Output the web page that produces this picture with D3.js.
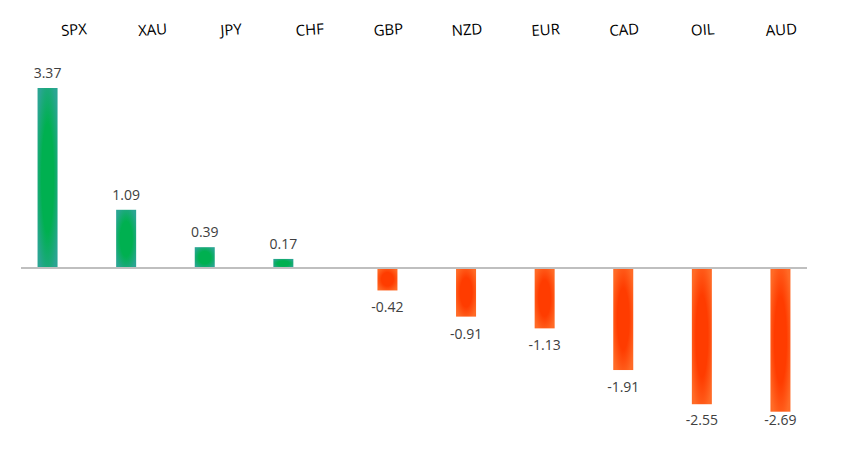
<!DOCTYPE html>
<html>
<head>
<meta charset="utf-8">
<script src="https://cdn.jsdelivr.net/npm/d3@7"></script>
<style>
	body { margin: 0; background: #fff; }
	svg { display: block; font-family: 'Open Sans', 'Noto Sans', sans-serif; }
</style>
</head>
<body>
<div id="canvas"></div>
<script>
// Data
var categories = ['SPX', 'XAU', 'JPY', 'CHF', 'GBP', 'NZD', 'EUR', 'CAD', 'OIL', 'AUD'],
	values = [3.37, 1.09, 0.39, 0.17, -0.42, -0.91, -1.13, -1.91, -2.55, -2.69];

var width = 843,
	height = 449,
	barWidth = 20,
	seriesOffset = 12.75,
	labelFloor = 425;

var svg = d3.select('#canvas').append('svg')
	.attr('width', width)
	.attr('height', height);

// Gradients
var defs = svg.append('defs');
function gradient(id, inner, outer) {
	var g = defs.append('radialGradient')
		.attr('id', id)
		.attr('cx', '50%').attr('cy', '50%').attr('r', '60%');
	g.append('stop').attr('offset', '0%').attr('stop-color', inner);
	g.append('stop').attr('offset', '50%').attr('stop-color', inner);
	g.append('stop').attr('offset', '100%').attr('stop-color', outer);
}
gradient('gPos', '#00b050', '#2aa592');
gradient('gNeg', '#ff3c00', '#ff6a26');

// Scales
var xScale = d3.scaleBand()
		.domain(categories)
		.range([21, 807]),
	yScale = d3.scaleLinear()
		.domain([-2.69, 3.37])
		.range([411.7, 88]);

function barCenter(d, i) {
	var c = xScale(categories[i]) + xScale.bandwidth() / 2;
	return d >= 0 ? c - seriesOffset : c + seriesOffset;
}

// Header labels
svg.append('g').selectAll('text')
	.data(categories)
	.enter().append('text')
	.attr('transform', function(d) {
		var x = xScale(d) + xScale.bandwidth() / 2 + 14;
		return 'translate(' + x + ',35) rotate(-4)';
	})
	.attr('text-anchor', 'middle')
	.attr('font-size', 15)
	.attr('fill', '#000')
	.text(function(d) { return d; });

// Bars
svg.append('g').selectAll('rect')
	.data(values)
	.enter().append('rect')
	.attr('x', function(d, i) { return barCenter(d, i) - barWidth / 2; })
	.attr('width', barWidth)
	.attr('y', function(d) { return yScale(Math.max(0, d)); })
	.attr('height', function(d) { return Math.abs(yScale(d) - yScale(0)); })
	.attr('fill', function(d) { return d >= 0 ? 'url(#gPos)' : 'url(#gNeg)'; });

// Zero line
svg.append('line')
	.attr('x1', xScale.range()[0])
	.attr('x2', xScale.range()[1])
	.attr('y1', yScale(0))
	.attr('y2', yScale(0))
	.attr('stroke', '#bfbfbf')
	.attr('stroke-width', 2);

// Value labels
svg.append('g').selectAll('text')
	.data(values)
	.enter().append('text')
	.attr('x', function(d, i) { return barCenter(d, i); })
	.attr('y', function(d) {
		return d >= 0 ? yScale(d) - 10 : Math.min(yScale(d) + 22, labelFloor);
	})
	.attr('text-anchor', 'middle')
	.attr('font-size', 14)
	.attr('fill', '#404040')
	.text(function(d) { return d.toFixed(2); });
</script>
</body>
</html>
